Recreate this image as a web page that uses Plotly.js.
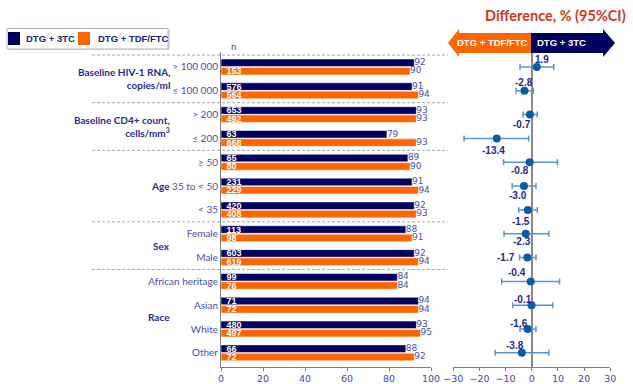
<!DOCTYPE html>
<html><head><meta charset="utf-8">
<script src="https://cdn.plot.ly/plotly-3.0.1.min.js"></script>
<style>html,body{margin:0;padding:0;background:#fff}#chart{width:633px;height:384px}</style>
</head><body><div id="chart"></div>
<script>
// ---- data ----
const seriesNames = ['DTG + 3TC', 'DTG + TDF/FTC'];
const subgroupLabels = ['> 100 000', '≤ 100 000', '> 200', '≤ 200', '≥ 50', '35 to < 50', '< 35',
  'Female', 'Male', 'African heritage', 'Asian', 'White', 'Other'];
const groupLabels = ['Baseline HIV-1 RNA,<br>copies/ml', 'Baseline CD4+ count,<br>cells/mm<sup>3</sup>', 'Age', 'Sex', 'Race'];
const groupFirstRow = [0, 2, 4, 7, 9];
const groupLastRow = [1, 3, 6, 8, 12];
const pct3TC = [92, 91, 93, 79, 89, 91, 92, 88, 92, 84, 94, 93, 88];
const pctTDF = [90, 94, 93, 93, 90, 94, 93, 91, 94, 84, 94, 95, 92];
const n3TC = ['', '576', '653', '63', '65', '231', '420', '113', '603', '99', '71', '480', '66'];
const nTDF = ['153', '564', '492', '668', '80', '229', '408', '98', '619', '76', '72', '497', '72'];
const diff = [1.9, -2.8, -0.7, -13.4, -0.8, -3.0, -1.5, -2.3, -1.7, -0.4, -0.1, -1.6, -3.8];
const ciLow = [-4.5, -6.0, -3.3, -25.9, -10.8, -7.5, -5.0, -10.6, -4.7, -11.5, -7.3, -4.5, -14.0];
const ciHigh = [8.4, 0.6, 2.1, -1.2, 9.8, 1.6, 2.1, 6.5, 1.6, 10.6, 8.0, 1.6, 6.5];
const barTicks = [0, 20, 40, 60, 80, 100];
const diffTicks = [-30, -20, -10, 0, 10, 20, 30];

// ---- styles ----
const W = 633, H = 384;
const px = x => x / W, py = y => 1 - y / H;
const NAVY = '#00005e', ORANGE = '#ff6600';
const rows = subgroupLabels.map((_, i) => i);
const off = 0.175;
// pixel offsets for the difference labels: [xshift, yshift]
const labelShift = [[5, 7], [0, 8], [-8, -10], [-3, -12], [-10, -8], [-6, -9], [-7, -12], [-4, -8],
  [-21, 0], [-14, 9], [-9, 6], [-9, 6], [-7, 7]];
const tickFont = {family: 'DejaVu Sans', size: 9.5, color: '#4646a6'};
const nFont = {family: 'Liberation Sans', size: 9, color: '#ffffff', weight: 'bold'};

const traces = [
  {type: 'bar', orientation: 'h', name: seriesNames[0], x: pct3TC, y: rows, xaxis: 'x', yaxis: 'y',
   marker: {color: NAVY, line: {color: '#ffffff', width: 0.5}}, text: n3TC, texttemplate: '\u00a0%{text}',
   textposition: 'inside', insidetextanchor: 'start', constraintext: 'none',
   textfont: nFont, hoverinfo: 'skip', showlegend: false},
  {type: 'bar', orientation: 'h', name: seriesNames[1], x: pctTDF, y: rows, xaxis: 'x', yaxis: 'y',
   marker: {color: ORANGE, line: {color: '#ffffff', width: 0.5}}, text: nTDF, texttemplate: '\u00a0%{text}',
   textposition: 'inside', insidetextanchor: 'start', constraintext: 'none',
   textfont: nFont, hoverinfo: 'skip', showlegend: false},
  {type: 'scatter', mode: 'text', x: pct3TC, y: rows.map(r => r - off), text: pct3TC.map(String),
   textposition: 'middle right', textfont: {family: 'DejaVu Sans', size: 9, color: '#5050a8'},
   xaxis: 'x', yaxis: 'y', showlegend: false, hoverinfo: 'skip', cliponaxis: false},
  {type: 'scatter', mode: 'text', x: pctTDF, y: rows.map(r => r + off), text: pctTDF.map(String),
   textposition: 'middle right', textfont: {family: 'DejaVu Sans', size: 9, color: '#5050a8'},
   xaxis: 'x', yaxis: 'y', showlegend: false, hoverinfo: 'skip', cliponaxis: false},
  {type: 'scatter', mode: 'markers', x: diff, y: rows, xaxis: 'x2', yaxis: 'y',
   marker: {size: 8, color: '#0b5aa6'},
   error_x: {type: 'data', symmetric: false, array: ciHigh.map((h, i) => h - diff[i]),
             arrayminus: ciLow.map((l, i) => diff[i] - l), color: '#5b95d0', thickness: 1.5, width: 3},
   showlegend: false, hoverinfo: 'skip', cliponaxis: false}
];

const annotations = [];
function note(o) { annotations.push(Object.assign({showarrow: false, xanchor: 'center', yanchor: 'middle'}, o)); }
groupLabels.forEach((g, k) => {
  note({xref: 'paper', yref: 'y', x: px(172), y: (groupFirstRow[k] + groupLastRow[k]) / 2,
    text: '<b>' + g + '</b>', xanchor: 'right', align: 'right',
    font: {family: 'Lato', size: 10, color: '#2a2a86'}});
});
annotations[2].y = 5; // "Age" sits on its middle row
diff.forEach((d, i) => {
  note({xref: 'x2', yref: 'y', x: d, y: i, text: '<b>' + d.toFixed(1) + '</b>',
    xshift: labelShift[i][0], yshift: labelShift[i][1],
    font: {family: 'Liberation Sans', size: 10, color: '#26268c'}});
});
note({xref: 'paper', yref: 'paper', x: px(233), y: py(47), text: 'n',
  font: {family: 'DejaVu Sans', size: 8.5, color: '#3a3a9a'}});
note({xref: 'paper', yref: 'paper', x: px(628), y: py(15), xanchor: 'right', text: '<b>Difference, % (95%CI)</b>',
  font: {family: 'Lato', size: 14.5, color: '#d0381a'}});
note({xref: 'paper', yref: 'paper', x: px(492), y: py(43), text: '<b>' + seriesNames[1] + '</b>',
  font: {family: 'Liberation Sans', size: 9.5, color: '#ffffff'}});
note({xref: 'paper', yref: 'paper', x: px(561), y: py(43), text: '<b>' + seriesNames[0] + '</b>',
  font: {family: 'Liberation Sans', size: 9.5, color: '#ffffff'}});
note({xref: 'paper', yref: 'paper', x: px(24), y: py(38.5), xanchor: 'left', text: '<b>' + seriesNames[0] + '</b>',
  font: {family: 'Liberation Sans', size: 9.5, color: '#1c1c70'}});
note({xref: 'paper', yref: 'paper', x: px(96), y: py(38.5), xanchor: 'left', text: '<b>' + seriesNames[1] + '</b>',
  font: {family: 'Liberation Sans', size: 9.5, color: '#1c1c70'}});

function path(pts) { return 'M ' + pts.map(p => px(p[0]) + ',' + py(p[1])).join(' L ') + ' Z'; }

const shapes = [];
[-0.5].concat(groupLastRow.slice(0, -1).map(r => r + 0.5)).forEach(r => {
  shapes.push({type: 'line', xref: 'paper', yref: 'y', x0: px(92), x1: px(448), y0: r, y1: r,
    line: {color: '#a6a6a6', width: 1, dash: '3px,2px'}});
});
shapes.push({type: 'rect', xref: 'paper', yref: 'paper', x0: px(8), x1: px(170), y0: py(29.5), y1: py(50),
  line: {width: 0}, fillcolor: '#dcdce8', layer: 'below'});
shapes.push({type: 'rect', xref: 'paper', yref: 'paper', x0: px(7), x1: px(168), y0: py(28.5), y1: py(49),
  line: {color: '#b0b0cc', width: 1}, fillcolor: '#ffffff', layer: 'below'});
shapes.push({type: 'rect', xref: 'paper', yref: 'paper', x0: px(8), x1: px(20), y0: py(32), y1: py(45),
  line: {width: 0}, fillcolor: NAVY});
shapes.push({type: 'rect', xref: 'paper', yref: 'paper', x0: px(78), x1: px(90), y0: py(32), y1: py(45),
  line: {width: 0}, fillcolor: ORANGE});
shapes.push({type: 'path', xref: 'paper', yref: 'paper', fillcolor: ORANGE, line: {width: 0},
  path: path([[448, 43], [459, 29], [459, 33], [531, 33], [531, 53], [459, 53], [459, 57]])});
shapes.push({type: 'path', xref: 'paper', yref: 'paper', fillcolor: NAVY, line: {width: 0},
  path: path([[531, 33], [603, 33], [603, 29], [615, 43], [603, 57], [603, 53], [531, 53]])});

const layout = {
  width: W, height: H, margin: {l: 0, r: 0, t: 0, b: 0}, paper_bgcolor: '#ffffff', plot_bgcolor: 'rgba(0,0,0,0)',
  barmode: 'group', bargap: 0.3, bargroupgap: 0.1, showlegend: false,
  xaxis: {domain: [px(221), px(431)], range: [0, 100], tickvals: barTicks, ticks: 'outside', ticklen: 3,
    tickcolor: '#7f7f7f', showline: true, linecolor: '#7f7f7f', linewidth: 1, showgrid: false, zeroline: false,
    tickfont: tickFont, anchor: 'y'},
  xaxis2: {domain: [px(453.3), px(610.3)], range: [-30, 30], tickvals: diffTicks, ticks: 'outside', ticklen: 3,
    tickcolor: '#7f7f7f', showline: true, linecolor: '#7f7f7f', linewidth: 1, showgrid: false,
    zeroline: true, zerolinecolor: '#8a8a8a', zerolinewidth: 2, tickfont: tickFont, anchor: 'y'},
  yaxis: {domain: [py(367), py(52)], range: [12.594, -0.628], tickvals: rows, ticktext: subgroupLabels,
    ticks: '', showline: true, linecolor: '#7f7f7f', linewidth: 1, showgrid: false, zeroline: false,
    tickfont: {family: 'Lato', size: 10, color: '#4e4eaa'}},
  annotations: annotations, shapes: shapes
};
Plotly.newPlot('chart', traces, layout, {staticPlot: true, displayModeBar: false});
</script></body></html>
